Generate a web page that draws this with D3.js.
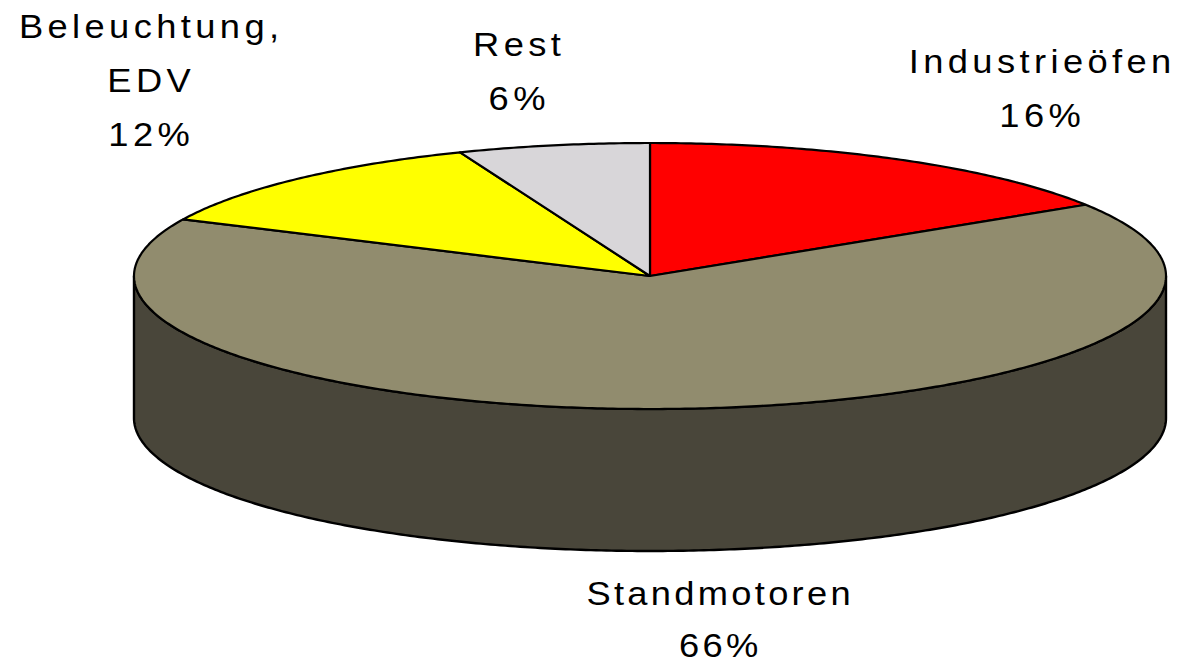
<!DOCTYPE html>
<html><head><meta charset="utf-8">
<script src="https://cdn.jsdelivr.net/npm/d3@7"></script>
<style>html,body{margin:0;padding:0;background:#fff;}svg{display:block;}</style>
</head><body>
<svg id="c" width="1180" height="664"></svg>
<script>
const categories = ["Industrieöfen", "Standmotoren", "Beleuchtung, EDV", "Rest"];
const values = [16, 66, 12, 6];
const colors = ["#FF0000", "#918C6E", "#FFFF00", "#D8D6D9"];
const sideColors = ["#8B0000", "#49463A", "#8B8B00", "#6C6B6C"];
const labelLines = [["Industrieöfen", "16%"], ["Standmotoren", "66%"], ["Beleuchtung,", "EDV", "12%"], ["Rest", "6%"]];

const W = 1180, H = 664;
const cx = 650, cy = 276, rx = 516, ry = 133, depth = 142;
const svg = d3.select("#c");

const pie = d3.pie().sort(null).value(d => d.v).startAngle(0).endAngle(2 * Math.PI);
const data = categories.map((c, i) => ({c, v: values[i], i}));
const arcs = pie(data);

const px = a => cx + rx * Math.sin(a);
const py = (a, dy = 0) => cy - ry * Math.cos(a) + dy;

function angles(a0, a1) {
  const n = Math.max(2, Math.ceil((a1 - a0) / 0.01));
  return d3.range(n + 1).map(k => a0 + (a1 - a0) * k / n);
}
const line = d3.line();

// side wall (front half: angles PI/2..3PI/2)
arcs.forEach(a => {
  const s = Math.max(a.startAngle, Math.PI / 2), e = Math.min(a.endAngle, 3 * Math.PI / 2);
  if (e <= s) return;
  const top = angles(s, e).map(t => [px(t), py(t)]);
  const bot = angles(s, e).reverse().map(t => [px(t), py(t, depth)]);
  svg.append("path")
    .attr("d", line(top.concat(bot)) + "Z")
    .attr("fill", sideColors[a.data.i])
    .attr("stroke", "#000").attr("stroke-width", 2.4).attr("stroke-linejoin", "round");
});

// top slices
arcs.forEach(a => {
  const pts = [[cx, cy]].concat(angles(a.startAngle, a.endAngle).map(t => [px(t), py(t)]));
  svg.append("path")
    .attr("d", line(pts) + "Z")
    .attr("fill", colors[a.data.i])
    .attr("stroke", "#000").attr("stroke-width", 2.2).attr("stroke-linejoin", "round");
});

// labels
const labelPos = [[1040, 73, 54], [718, 605, 52], [149, 38, 54], [517, 56, 54]];
labelLines.forEach((lines, i) => {
  const [x, y, lh] = labelPos[i];
  const g = svg.append("g").attr("transform", `translate(${x},${y}) scale(1.1,1)`);
  lines.forEach((t, k) => {
    g.append("text")
      .attr("x", 2).attr("y", k * lh)
      .attr("text-anchor", "middle")
      .attr("font-family", "Liberation Sans, Arial, sans-serif")
      .attr("font-size", 33)
      .attr("letter-spacing", i === 1 ? "3px" : "4px")
      .attr("fill", "#000")
      .text(t);
  });
});
</script>
</body></html>
